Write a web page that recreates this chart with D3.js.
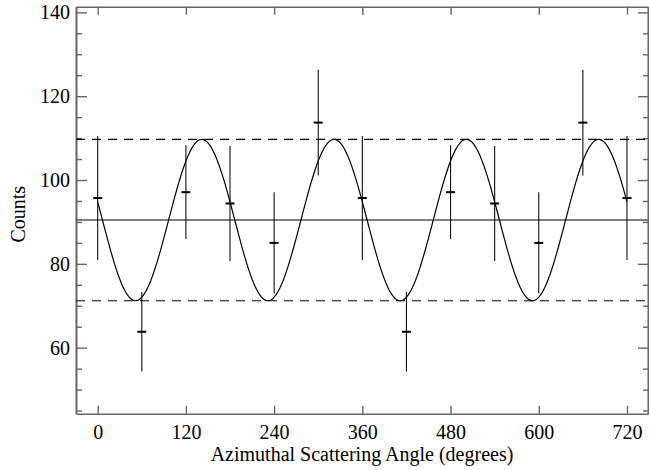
<!DOCTYPE html>
<html>
<head>
<meta charset="utf-8">
<script src="https://cdn.jsdelivr.net/npm/d3@7"></script>
<style>
  html, body { margin: 0; padding: 0; background: #fff; }
  svg { display: block; }
  svg text { font-family: "Liberation Serif", "DejaVu Serif", serif; }
</style>
</head>
<body>
<svg id="chart" width="649" height="470"></svg>
<script>
// measured counts per azimuthal bin (two full turns shown)
const angles = [0, 60, 120, 180, 240, 300, 360, 420, 480, 540, 600, 660, 720]
const counts = [95.7, 63.8, 97.1, 94.4, 85.0, 113.7, 95.7, 63.8, 97.1, 94.4, 85.0, 113.7, 95.7]
const errors = [14.8, 9.5, 11.2, 13.7, 12.1, 12.6, 14.8, 9.5, 11.2, 13.7, 12.1, 12.6, 14.8]

// modulation curve fit parameters
const fitMean = 90.45
const fitAmp = 19.25
const fitPhase = 141.5

const xTicks = [0, 120, 240, 360, 480, 600, 720]
const yTicks = [60, 80, 100, 120, 140]
const yMinorTicks = [45, 50, 55, 65, 70, 75, 85, 90, 95, 105, 110, 115, 125, 130, 135]

const width = 649
const height = 470
const margin = { top: 6.7, right: 1, bottom: 56.3, left: 76 }
const innerW = width - margin.left - margin.right
const innerH = height - margin.top - margin.bottom

const x = d3.scaleLinear().domain([-29.5, 748.6]).range([0, innerW])
const y = d3.scaleLinear().domain([44.25, 141.35]).range([innerH, 0])

const svg = d3.select('#chart')
const g = svg.append('g')
  .attr('transform', `translate(${margin.left}, ${margin.top})`)

const axisColor = '#666'
const fontSize = 20
const serif = '"Liberation Serif", "DejaVu Serif", serif'

function styleAxis (sel) {
  sel.attr('font-family', serif)
  sel.select('.domain').attr('stroke', axisColor).attr('stroke-width', 1.6)
  sel.selectAll('.tick line').attr('stroke', axisColor).attr('stroke-width', 1.4)
  sel.selectAll('.tick text')
    .attr('fill', '#000')
    .style('font-size', fontSize + 'px')
}

// minor y ticks (left and right)
g.append('g')
  .call(d3.axisLeft(y).tickValues(yMinorTicks).tickSize(-6).tickSizeOuter(0).tickFormat(''))
  .call(styleAxis)
g.append('g')
  .attr('transform', `translate(${innerW}, 0)`)
  .call(d3.axisRight(y).tickValues(yMinorTicks).tickSize(-5).tickSizeOuter(0).tickFormat(''))
  .call(styleAxis)

// major y ticks
g.append('g')
  .call(d3.axisLeft(y).tickValues(yTicks).tickSize(-11).tickSizeOuter(0).tickPadding(6))
  .call(styleAxis)
g.append('g')
  .attr('transform', `translate(${innerW}, 0)`)
  .call(d3.axisRight(y).tickValues(yTicks).tickSize(-10).tickSizeOuter(0).tickFormat(''))
  .call(styleAxis)

// x axes
g.append('g')
  .attr('transform', `translate(0, ${innerH})`)
  .call(d3.axisBottom(x).tickValues(xTicks).tickSize(-8).tickSizeOuter(0).tickPadding(11).tickFormat(d3.format('d')))
  .call(styleAxis)
g.append('g')
  .call(d3.axisTop(x).tickValues(xTicks).tickSize(-8).tickSizeOuter(0).tickFormat(''))
  .call(styleAxis)

// axis titles
svg.append('text')
  .attr('x', margin.left + innerW / 2)
  .attr('y', 461)
  .attr('text-anchor', 'middle')
  .attr('font-family', serif)
  .style('font-size', fontSize + 'px')
  .text('Azimuthal Scattering Angle (degrees)')

svg.append('text')
  .attr('transform', `translate(25, ${margin.top + innerH / 2 + 4}) rotate(-90)`)
  .attr('text-anchor', 'middle')
  .attr('font-family', serif)
  .style('font-size', fontSize + 'px')
  .text('Counts')

// mean and +/- amplitude reference lines
g.append('line')
  .attr('x1', 0).attr('x2', innerW)
  .attr('y1', y(fitMean)).attr('y2', y(fitMean))
  .attr('stroke', '#555').attr('stroke-width', 1.5)

g.selectAll('.bound')
  .data([fitMean + fitAmp, fitMean - fitAmp])
  .enter()
  .append('line')
    .attr('class', 'bound')
    .attr('x1', 0).attr('x2', innerW)
    .attr('y1', d => y(d)).attr('y2', d => y(d))
    .attr('stroke', '#000')
    .attr('stroke-width', 1.2)
    .attr('stroke-dasharray', '9,7')

// fitted modulation curve
const curveX = d3.range(0, 720.5, 2)
const line = d3.line()
  .x(d => x(d))
  .y(d => y(fitMean + fitAmp * Math.cos(2 * (d - fitPhase) * Math.PI / 180)))
g.append('path')
  .attr('d', line(curveX))
  .attr('fill', 'none')
  .attr('stroke', '#000')
  .attr('stroke-width', 1.2)

// data points with error bars
const points = angles.map((a, i) => ({ angle: a, count: counts[i], err: errors[i] }))

g.selectAll('.err')
  .data(points)
  .enter()
  .append('line')
    .attr('class', 'err')
    .attr('x1', d => x(d.angle)).attr('x2', d => x(d.angle))
    .attr('y1', d => y(d.count + d.err)).attr('y2', d => y(d.count - d.err))
    .attr('stroke', '#111')
    .attr('stroke-width', 1.1)

g.selectAll('.mark')
  .data(points)
  .enter()
  .append('line')
    .attr('class', 'mark')
    .attr('x1', d => x(d.angle) - 4.5).attr('x2', d => x(d.angle) + 4.5)
    .attr('y1', d => y(d.count)).attr('y2', d => y(d.count))
    .attr('stroke', '#000')
    .attr('stroke-width', 2)
</script>
</body>
</html>
